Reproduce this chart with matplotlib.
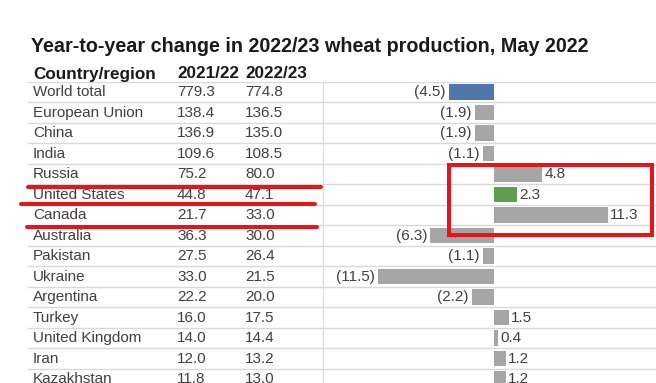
import numpy as np
import matplotlib
matplotlib.use("Agg")
import matplotlib.pyplot as plt
from matplotlib.patches import Rectangle
from matplotlib.lines import Line2D

plt.rcParams['font.family'] = ['Liberation Sans', 'DejaVu Sans']

countries = ["World total", "European Union", "China", "India", "Russia",
             "United States", "Canada", "Australia", "Pakistan", "Ukraine",
             "Argentina", "Turkey", "United Kingdom", "Iran", "Kazakhstan"]
prod_2122 = [779.3, 138.4, 136.9, 109.6, 75.2, 44.8, 21.7, 36.3, 27.5, 33.0,
             22.2, 16.0, 14.0, 12.0, 11.8]
prod_2223 = [774.8, 136.5, 135.0, 108.5, 80.0, 47.1, 33.0, 30.0, 26.4, 21.5,
             20.0, 17.5, 14.4, 13.2, 13.0]
change = [-4.5, -1.9, -1.9, -1.1, 4.8, 2.3, 11.3, -6.3, -1.1, -11.5,
          -2.2, 1.5, 0.4, 1.2, 1.2]

W, H = 656, 383
fig = plt.figure(figsize=(W / 100, H / 100), dpi=100)

def fx(p):
    return p / W

def fy(p):
    return 1 - p / H

row0 = 92.0     # pixel centre of first row
pitch = 20.5
top = row0 - pitch / 2
ybot = (H - row0) / pitch

# left table axes and right bar axes
axt = fig.add_axes([0, 0, fx(323), fy(top)])
axb = fig.add_axes([fx(323), 0, 1 - fx(323), fy(top)])
for a in (axt, axb):
    a.set_ylim(ybot, -0.5)
    for s in a.spines.values():
        s.set_visible(False)
    a.set_xticks([])
    a.set_yticks([])
    a.patch.set_alpha(0)

axt.set_xlim(0, 323)
zero = 494
scale = 10.1
axb.set_xlim(-(zero - 323) / scale, (W - zero) / scale)

grid_c = "#d9d9d9"
txt_c = "#404040"
n = len(countries)
y = np.arange(n)

for b in np.arange(-0.5, n, 1.0):
    axt.plot([28, 323], [b, b], color=grid_c, lw=1.0, zorder=0)
    axb.axhline(b, color=grid_c, lw=1.0, zorder=0)
axb.axvline(axb.get_xlim()[0], color=grid_c, lw=1.5, zorder=0)

colors = ["#a6a6a6"] * n
colors[0] = "#4f77a9"
colors[countries.index("United States")] = "#5e9e4d"
axb.barh(y, change, height=0.74, color=colors, zorder=2)

fs = 11
for i in range(n):
    axt.text(33, i, countries[i], va="center", ha="left", fontsize=fs, color=txt_c)
    axt.text(177, i, f"{prod_2122[i]:.1f}", va="center", ha="left", fontsize=fs, color=txt_c)
    axt.text(245, i, f"{prod_2223[i]:.1f}", va="center", ha="left", fontsize=fs, color=txt_c)
    v = change[i]
    if v < 0:
        axb.text(v - 0.3, i, f"({abs(v):.1f})", va="center", ha="right",
                 fontsize=fs, color=txt_c)
    else:
        axb.text(v + 0.2, i, f"{v:.1f}", va="center", ha="left",
                 fontsize=fs, color=txt_c)

# header and title
hfs = 12.3
fig.text(fx(33), fy(74), "Country/region", fontsize=hfs, fontweight="bold",
         va="center", ha="left", color="#1a1a1a")
fig.text(fx(177), fy(74), "2021/22", fontsize=hfs, fontweight="bold",
         va="center", ha="left", color="#1a1a1a")
fig.text(fx(245), fy(74), "2022/23", fontsize=hfs, fontweight="bold",
         va="center", ha="left", color="#1a1a1a")
fig.text(fx(31), fy(47), "Year-to-year change in 2022/23 wheat production, May 2022",
         fontsize=14.2, fontweight="bold", va="center", ha="left", color="#1a1a1a")

# red hand-drawn highlights
red = "#e8141c"
for (x0, x1, yy) in [(28, 321, 186.5), (21, 315, 204.5), (27, 317, 226.7)]:
    fig.add_artist(Line2D([fx(x0), fx(x1)], [fy(yy), fy(yy)], color=red,
                          lw=2.9, solid_capstyle="round"))
fig.add_artist(Rectangle((fx(449), fy(235)), fx(652 - 449), (235 - 165) / H,
                         fill=False, edgecolor=red, lw=2.9))

fig.savefig("out.png", dpi=100)
